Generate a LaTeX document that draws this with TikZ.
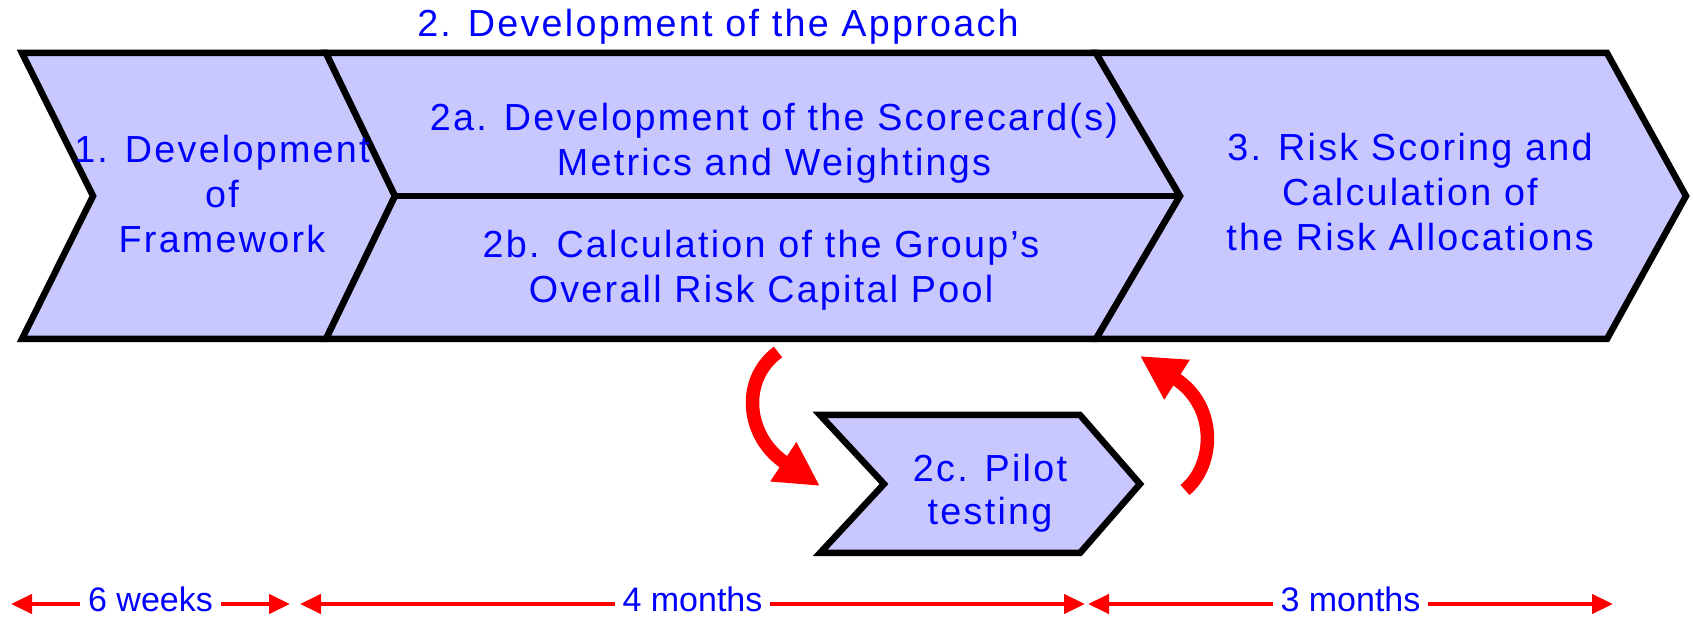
\documentclass[tikz,border=0pt]{standalone}
\usepackage{fontspec}
\setmainfont{Liberation Sans}[LetterSpace=6]
\newfontfamily\spanfont{Liberation Sans}
\usetikzlibrary{arrows.meta}
\definecolor{boxfill}{RGB}{200,200,255}
\definecolor{txtblue}{RGB}{0,0,255}
\definecolor{arrred}{RGB}{255,0,0}
\begin{document}
\begin{tikzpicture}[x=0.5pt,y=-0.5pt,
  chev/.style={fill=boxfill, draw=black, line width=3.25pt, miter limit=10},
  lbl/.style={text=txtblue, font=\fontsize{18.85pt}{22.5pt}\selectfont, align=center, inner sep=0pt},
  spanarrow/.style={draw=arrred, line width=2.15pt, {Triangle[length=10.5pt,width=9.5pt]}-{Triangle[length=10.5pt,width=9.5pt]}},
  spanlbl/.style={fill=white, text=txtblue, font=\spanfont\fontsize{17pt}{19pt}\selectfont, inner xsep=4pt, inner ysep=0pt, anchor=base, yshift=-4pt},
  cycarrow/.style={draw=arrred, line width=6.75pt, -{Triangle[length=22pt,width=22pt]}}]
\useasboundingbox (0,0) rectangle (1693,619);
% chevrons
\path[chev] (22,53) -- (326,53) -- (395,196) -- (326,339) -- (22,339) -- (93,196) -- cycle;
\path[chev] (326,53) -- (1096,53) -- (1180,196) -- (1096,339) -- (326,339) -- (395,196) -- cycle;
\path[chev] (1096,53) -- (1607,53) -- (1686,196) -- (1607,339) -- (1096,339) -- (1180,196) -- cycle;
\coordinate (divl) at (395,196);
\coordinate (divr) at (1180,196);
\draw[line width=3.25pt] (divl) -- (divr);
\path[chev] (820,415) -- (1080,415) -- (1140,484) -- (1080,553) -- (820,553) -- (884,484) -- cycle;
% texts
\node[lbl, anchor=base] (t2) at (718,37) {2. Development of the Approach};
\node[lbl] (n1) at (222,194) {1. Development\\of\\Framework};
\node[lbl] (n2a) at (774,143) {2a. Development of the Scorecard(s)\\Metrics and Weightings};
\node[lbl] (n2b) at (761,270) {2b. Calculation of the Group’s\\Overall Risk Capital Pool};
\node[lbl, font=\fontsize{18.85pt}{22.65pt}\selectfont] (n3) at (1410,192) {3. Risk Scoring and\\Calculation of\\the Risk Allocations};
\node[lbl, font=\fontsize{18.85pt}{21.5pt}\selectfont] (n2c) at (990,493) {2c. Pilot\\testing};
% curved arrows
\coordinate (la0) at (778,352);
\coordinate (la1) at (820,486);
\draw[cycarrow] (la0) .. controls (740,380) and (746,437) .. (la1);
\coordinate (ra0) at (1185,490);
\coordinate (ra1) at (1140,356);
\draw[cycarrow] (ra0) .. controls (1215,465) and (1218,406) .. (ra1);
% time spans
\coordinate (s1a) at (11,604);
\coordinate (s1b) at (290,604);
\coordinate (s2a) at (300,604);
\coordinate (s2b) at (1085,604);
\coordinate (s3a) at (1088,604);
\coordinate (s3b) at (1613,604);
\draw[spanarrow] (s1a) -- node[spanlbl] (l1) {6 weeks} (s1b);
\draw[spanarrow] (s2a) -- node[spanlbl] (l2) {4 months} (s2b);
\draw[spanarrow] (s3a) -- node[spanlbl] (l3) {3 months} (s3b);
\end{tikzpicture}
\end{document}
